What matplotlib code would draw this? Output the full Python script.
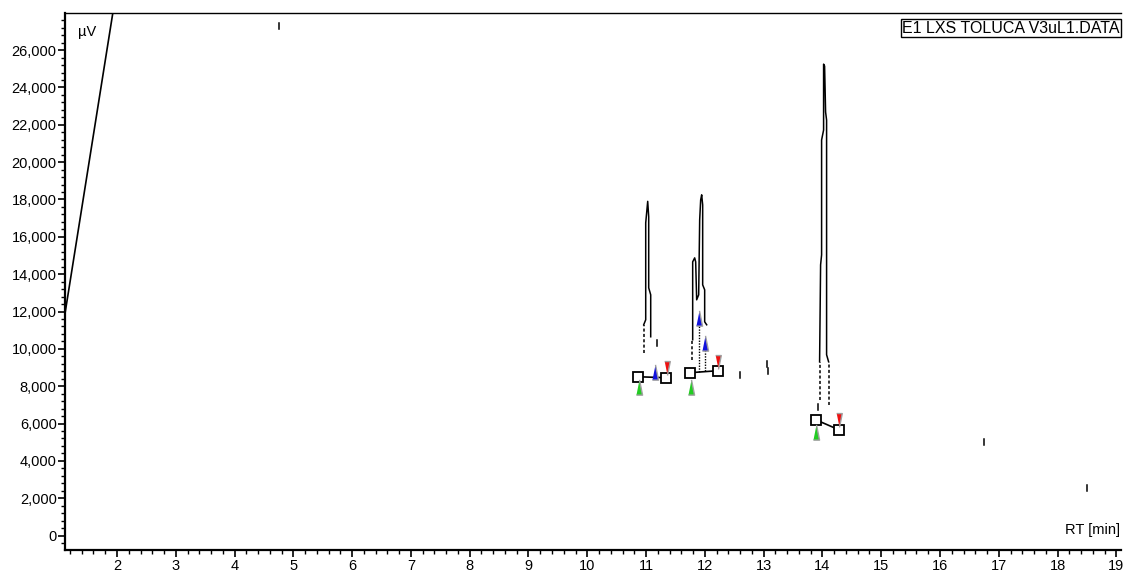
import numpy as np
import matplotlib
matplotlib.use("Agg")
import matplotlib.pyplot as plt
from matplotlib.ticker import MultipleLocator, StrMethodFormatter

plt.rcParams['font.family'] = ['Liberation Sans', 'DejaVu Sans']

# chromatogram pieces (RT in min, signal in uV)
ramp_rt = [1.116, 1.98]
ramp_uv = [11900, 29000]

p1_rt = [10.96, 10.96, 10.994, 10.994, 11.028, 11.045, 11.045, 11.079, 11.079]
p1_uv = [11290, 11290, 11556, 16746, 17900, 17067, 13268, 12894, 10647]
p1_tail_rt = [10.96, 10.96]
p1_tail_uv = [9790, 11290]

p2_rt = [11.793, 11.793, 11.827, 11.844, 11.861, 11.895, 11.912, 11.929, 11.946, 11.963, 11.963, 11.997, 11.997, 12.031]
p2_uv = [10486, 14659, 14873, 14659, 12626, 12894, 16906, 17976, 18250, 17709, 13429, 13161, 11449, 11289]
p2_tail_rt = [11.776, 11.776]
p2_tail_uv = [9416, 10486]

p3_rt = [13.952, 13.969, 13.986, 13.986, 14.02, 14.02, 14.037, 14.054, 14.071, 14.071, 14.105]
p3_uv = [9309, 14499, 15034, 21186, 21721, 25250, 25145, 22684, 22256, 9684, 9309]
p3_tail_left_rt = [13.952, 13.952]
p3_tail_left_uv = [7276, 9309]
p3_tail_right_rt = [14.105, 14.105]
p3_tail_right_uv = [7000, 9309]

# stray points
dots_rt = [4.754, 11.181, 12.59, 13.05, 13.07, 16.757, 18.5, 13.918]
dots_uv = [27300, 10326, 8600, 9200, 8800, 5000, 2550, 6900]

# drop lines under the peak 2 apexes
drop_rt = [11.895, 11.997]
drop_top = [11663, 10326]
drop_bottom = [8760, 8800]

# peak integration marks
base_rt = [[10.858, 11.334], [11.742, 12.218], [13.884, 14.275]]
base_uv = [[8506, 8453], [8720, 8828], [6206, 5671]]
start_rt = [10.875, 11.759, 13.884]
start_uv = [7972, 7972, 5564]
end_rt = [11.35, 12.218, 14.275]
end_uv = [8988, 9309, 6206]
apex_rt = [11.147, 11.895, 11.997]
apex_uv = [8774, 11663, 10326]

fig = plt.figure(figsize=(11.25, 5.73), dpi=100)
ax = fig.add_axes([0.0578, 0.041, 0.939, 0.936])

ax.plot(ramp_rt, ramp_uv, color='black', lw=1.2)
for xs, ys in [(p1_rt, p1_uv), (p2_rt, p2_uv), (p3_rt, p3_uv)]:
    ax.plot(xs, ys, color='black', lw=1.1)
for xs, ys in [(p1_tail_rt, p1_tail_uv), (p2_tail_rt, p2_tail_uv),
               (p3_tail_left_rt, p3_tail_left_uv), (p3_tail_right_rt, p3_tail_right_uv)]:
    ax.plot(xs, ys, color='black', lw=1.1, ls=(0, (2, 1.5)))
for x, y in zip(dots_rt, dots_uv):
    ax.plot([x, x], [y - 150, y + 150], color='black', lw=1.1)
for x, t, b in zip(drop_rt, drop_top, drop_bottom):
    ax.plot([x, x], [b, t], color='black', lw=1.0, ls=(0, (1, 1)))

for xs, ys in zip(base_rt, base_uv):
    ax.plot(xs, ys, color='black', lw=1.2)
    ax.plot(xs, ys, ls='none', marker='s', ms=7, mfc='white', mec='black', mew=1.3)

tall_up = [(-0.4, -1), (0.4, -1), (0, 1)]
tall_dn = [(-0.4, 1), (0.4, 1), (0, -1)]
ax.plot(start_rt, start_uv, ls='none', marker=tall_up, ms=11, mfc='#22cc22', mec='#a0a0a0', mew=1)
ax.plot(end_rt, end_uv, ls='none', marker=tall_dn, ms=10, mfc='#ee1111', mec='#a0a0a0', mew=1)
ax.plot(apex_rt, apex_uv, ls='none', marker=tall_up, ms=11, mfc='#1111dd', mec='#a0a0a0', mew=1)

ax.set_xlim(1.116, 19.086)
ax.set_ylim(-749, 27980)
ax.xaxis.set_major_locator(MultipleLocator(1))
ax.xaxis.set_minor_locator(MultipleLocator(0.2))
ax.yaxis.set_major_locator(MultipleLocator(2000))
ax.yaxis.set_minor_locator(MultipleLocator(400))
ax.yaxis.set_major_formatter(StrMethodFormatter('{x:,.0f}'))
ax.set_xticks([t for t in range(2, 20)])

ax.spines['right'].set_visible(False)
ax.spines['top'].set_linewidth(1.0)
ax.spines['left'].set_linewidth(1.6)
ax.spines['bottom'].set_linewidth(1.6)
ax.tick_params(which='major', length=5, width=1.2, labelsize=10.5, color='black')
ax.tick_params(which='minor', length=3, width=1.0)
ax.tick_params(axis='x', pad=1.5)
ax.tick_params(axis='y', pad=1)

ax.text(0.012, 0.964, 'µV', transform=ax.transAxes, fontsize=10.5, va='center', ha='left')
ax.text(0.999, 0.036, 'RT [min]', transform=ax.transAxes, fontsize=10.5, va='center', ha='right')
ax.text(0.998, 0.986, 'E1 LXS TOLUCA V3uL1.DATA', transform=ax.transAxes, fontsize=11.5,
        va='top', ha='right',
        bbox=dict(boxstyle='square,pad=0.08', fc='white', ec='black', lw=1))

fig.savefig('out.png', dpi=100)
